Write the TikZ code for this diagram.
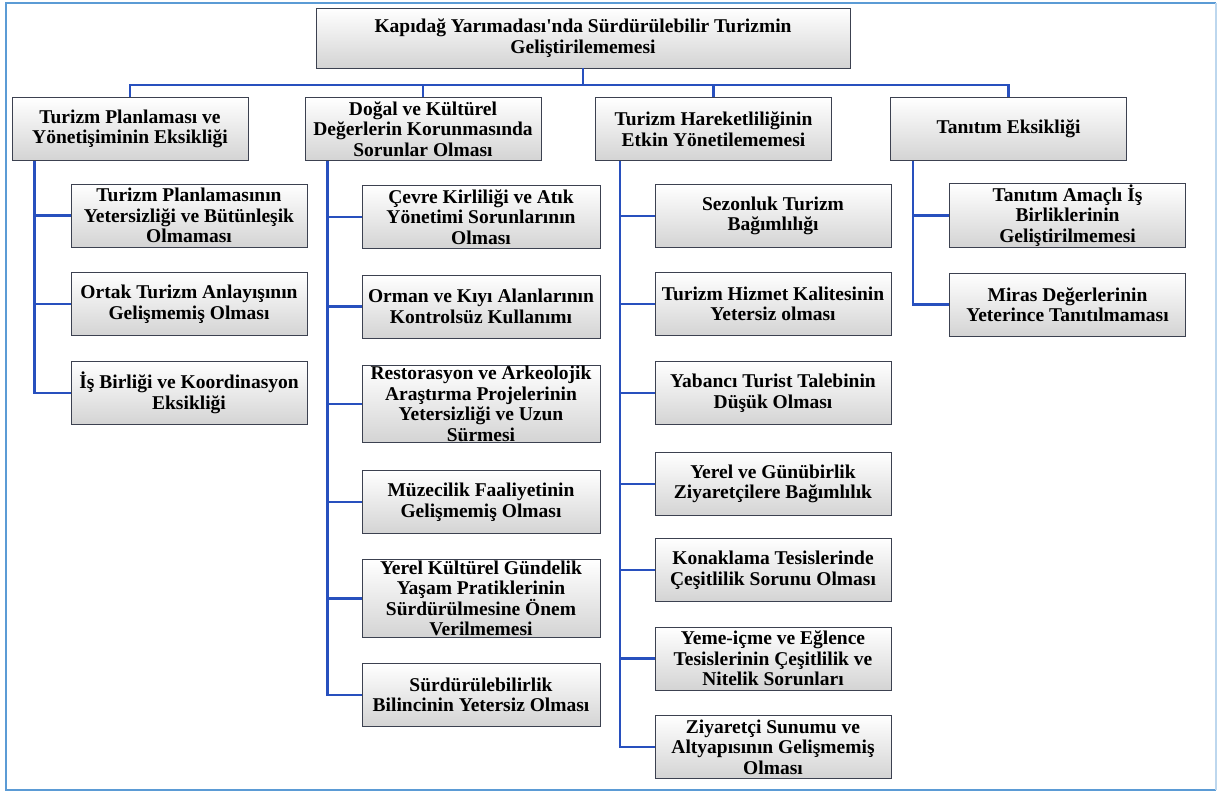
\documentclass[tikz,border=0pt]{standalone}
\usepackage{fontspec}
\setmainfont{Liberation Serif}
\definecolor{linkblue}{RGB}{40,80,190}
\definecolor{frameblue}{RGB}{91,155,213}
\definecolor{boxline}{RGB}{60,65,80}

\tikzset{
  box/.style={draw=boxline,line width=0.9pt,top color=white,bottom color=black!17,
    align=center,font=\fontsize{19.5}{20.5}\selectfont\bfseries,
    minimum width=236,minimum height=63,inner sep=1pt},
  link/.style={draw=linkblue,line width=2.2pt},
}

\begin{document}
\begin{tikzpicture}[x=1pt,y=-1pt]
      \useasboundingbox (0,0) rectangle (1218,792);
      % outer frame
      \draw[frameblue,line width=2.4pt] (1216,790) -- (6,790) -- (6,3) -- (1216,3);
      \draw[frameblue!40,line width=2pt] (1216,3) -- (1216,790);

      \begin{scope}[every node/.style={box}]
        \node[minimum width=534,minimum height=60] (t) at (583,38) {Kapıdağ Yarımadası\textquotesingle nda Sürdürülebilir Turizmin\\Geliştirilememesi};
        % first level
        \node (p1) at (130,129) {Turizm Planlaması ve\\Yönetişiminin Eksikliği};
        \node (p2) at (423,129) {Doğal ve Kültürel\\Değerlerin Korunmasında\\Sorunlar Olması};
        \node (p3) at (713.5,129) {Turizm Hareketliliğinin\\Etkin Yönetilememesi};
        \node (p4) at (1008.5,129) {Tanıtım Eksikliği};
        % column 1
        \node (a1) at (189,215.5) {Turizm Planlamasının\\Yetersizliği ve Bütünleşik\\Olmaması};
        \node (a2) at (189,304) {Ortak Turizm Anlayışının\\Gelişmemiş Olması};
        \node (a3) at (189,393) {İş Birliği ve Koordinasyon\\Eksikliği};
        % column 2
        \node[minimum width=238] (b1) at (481,217) {Çevre Kirliliği ve Atık\\Yönetimi Sorunlarının\\Olması};
        \node[minimum width=238] (b2) at (481,306.5) {Orman ve Kıyı Alanlarının\\Kontrolsüz Kullanımı};
        \node[minimum width=238] (b3) at (481,404) {Restorasyon ve Arkeolojik\\Araştırma Projelerinin\\Yetersizliği ve Uzun\\Sürmesi};
        \node[minimum width=238] (b4) at (481,502) {Müzecilik Faaliyetinin\\Gelişmemiş Olması};
        \node[minimum width=238] (b5) at (481,598.5) {Yerel Kültürel Gündelik\\Yaşam Pratiklerinin\\Sürdürülmesine Önem\\Verilmemesi};
        \node[minimum width=238] (b6) at (481,695) {Sürdürülebilirlik\\Bilincinin Yetersiz Olması};
        % column 3
        \node (c1) at (773,216) {Sezonluk Turizm\\Bağımlılığı};
        \node (c2) at (773,304) {Turizm Hizmet Kalitesinin\\Yetersiz olması};
        \node (c3) at (773,393) {Yabancı Turist Talebinin\\Düşük Olması};
        \node (c4) at (773,484) {Yerel ve Günübirlik\\Ziyaretçilere Bağımlılık};
        \node (c5) at (773,570) {Konaklama Tesislerinde\\Çeşitlilik Sorunu Olması};
        \node (c6) at (773,658.5) {Yeme-içme ve Eğlence\\Tesislerinin Çeşitlilik ve\\Nitelik Sorunları};
        \node (c7) at (773,747) {Ziyaretçi Sunumu ve\\Altyapısının Gelişmemiş\\Olması};
        % column 4
        \node (d1) at (1067.5,215.5) {Tanıtım Amaçlı İş\\Birliklerinin\\Geliştirilmemesi};
        \node (d2) at (1067.5,304.5) {Miras Değerlerinin\\Yeterince Tanıtılmaması};
      \end{scope}

      % connectors
      \coordinate (bus) at (583,85);
      \draw[link] (t.south) -- (t.south |- bus);
      \draw[link] (p1.north) -- (p1.north |- bus) -- (p4.north |- bus) -- (p4.north);
      \draw[link] (p2.north) -- (p2.north |- bus);
      \draw[link] (p3.north) -- (p3.north |- bus);
      % trunks
      \coordinate (k1) at ([xshift=23]p1.south west);
      \coordinate (k2) at ([xshift=23]p2.south west);
      \coordinate (k3) at ([xshift=25]p3.south west);
      \coordinate (k4) at ([xshift=23]p4.south west);
      \draw[link] (k1) |- (a3.west);
      \draw[link] (k2) |- (b6.west);
      \draw[link] (k3) |- (c7.west);
      \draw[link] (k4) |- (d2.west);
      \foreach \n in {a1,a2} \draw[link] (\n.west) -- (\n.west -| k1);
      \foreach \n in {b1,b2,b3,b4,b5} \draw[link] (\n.west) -- (\n.west -| k2);
      \foreach \n in {c1,c2,c3,c4,c5,c6} \draw[link] (\n.west) -- (\n.west -| k3);
      \draw[link] (d1.west) -- (d1.west -| k4);
    \end{tikzpicture}
\end{document}
